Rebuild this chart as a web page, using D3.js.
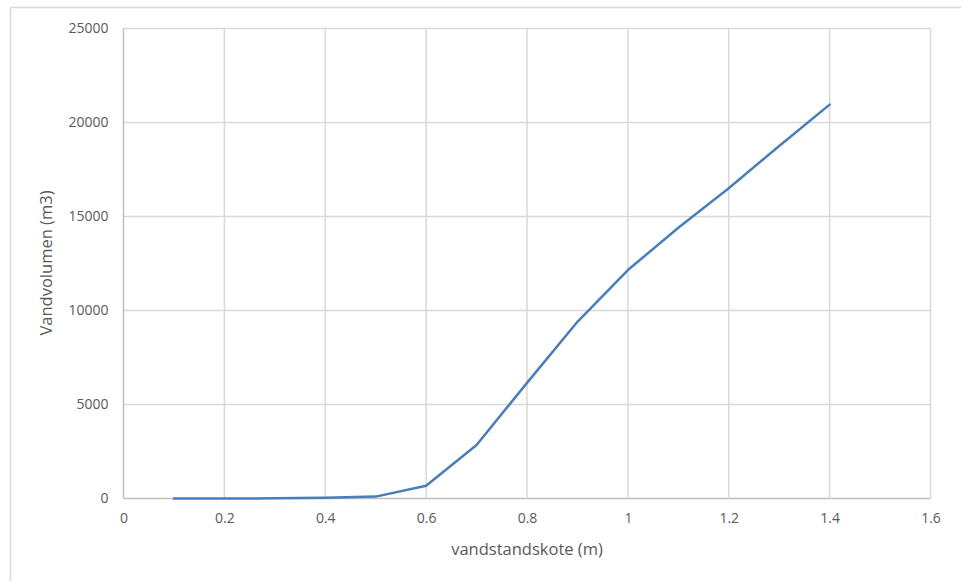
<!DOCTYPE html>
<html><head><meta charset="utf-8">
<script src="https://cdn.jsdelivr.net/npm/d3@7"></script>
<style>body{margin:0;background:#fff}svg{display:block}</style>
</head><body>
<svg id="c" width="961" height="581"></svg>
<script>
const xValues = [0.1,0.2,0.3,0.4,0.5,0.6,0.7,0.8,0.9,1.0,1.1,1.2,1.3,1.4];
const yValues = [0,0,10,40,100,680,2850,6150,9400,12150,14400,16500,18750,20950];
const xTicks = [0,0.2,0.4,0.6,0.8,1,1.2,1.4,1.6];
const yTicks = [0,5000,10000,15000,20000,25000];
const xTitle = "vandstandskote (m)";
const yTitle = "Vandvolumen (m3)";

const svg = d3.select("#c");
const font = "'Open Sans', sans-serif";
const textColor = "#595959";
const L=123.5, R=930.5, T=28.5, B=498.5;
const x = d3.scaleLinear().domain([0,1.6]).range([L,R]);
const y = d3.scaleLinear().domain([0,25000]).range([B,T]);

// outer border
svg.append("rect").attr("x",10.5).attr("y",7.5).attr("width",1000).attr("height",1000)
  .attr("fill","none").attr("stroke","#d9d9d9").attr("stroke-width",1.5);

const g = svg.append("g");
g.selectAll(".hg").data(yTicks).join("line")
  .attr("x1",L).attr("x2",R).attr("y1",d=>y(d)).attr("y2",d=>y(d))
  .attr("stroke",d=>d===0?"#bfbfbf":"#d9d9d9").attr("stroke-width",1.5);
g.selectAll(".vg").data(xTicks).join("line")
  .attr("y1",T).attr("y2",B).attr("x1",d=>x(d)).attr("x2",d=>x(d))
  .attr("stroke",d=>d===0?"#bfbfbf":"#d9d9d9").attr("stroke-width",1.5);

const yAxis = svg.append("g").attr("transform",`translate(${L},0)`)
  .call(d3.axisLeft(y).tickValues(yTicks).tickSize(0).tickPadding(15).tickFormat(d3.format("d")));
const xAxis = svg.append("g").attr("transform",`translate(0,${B})`)
  .call(d3.axisBottom(x).tickValues(xTicks).tickSize(0).tickPadding(15).tickFormat(d=>String(+d.toFixed(1))));
[yAxis,xAxis].forEach(a=>{
  a.select(".domain").remove();
  a.selectAll("text").attr("fill",textColor).style("font-family",font).style("font-size","14px");
});

const data = xValues.map((v,i)=>[v,yValues[i]]);
svg.append("path").datum(data)
  .attr("fill","none").attr("stroke","#4a7ebb").attr("stroke-width",2.5)
  .attr("stroke-linejoin","round").attr("stroke-linecap","round")
  .attr("d",d3.line().x(d=>x(d[0])).y(d=>y(d[1])));

svg.append("text").attr("x",527).attr("y",555).attr("text-anchor","middle")
  .attr("fill",textColor).style("font-family",font).style("font-size","16.5px").text(xTitle);
svg.append("text").attr("transform","translate(52,263) rotate(-90)").attr("text-anchor","middle")
  .attr("fill",textColor).style("font-family",font).style("font-size","16.5px").text(yTitle);
</script>
</body></html>
